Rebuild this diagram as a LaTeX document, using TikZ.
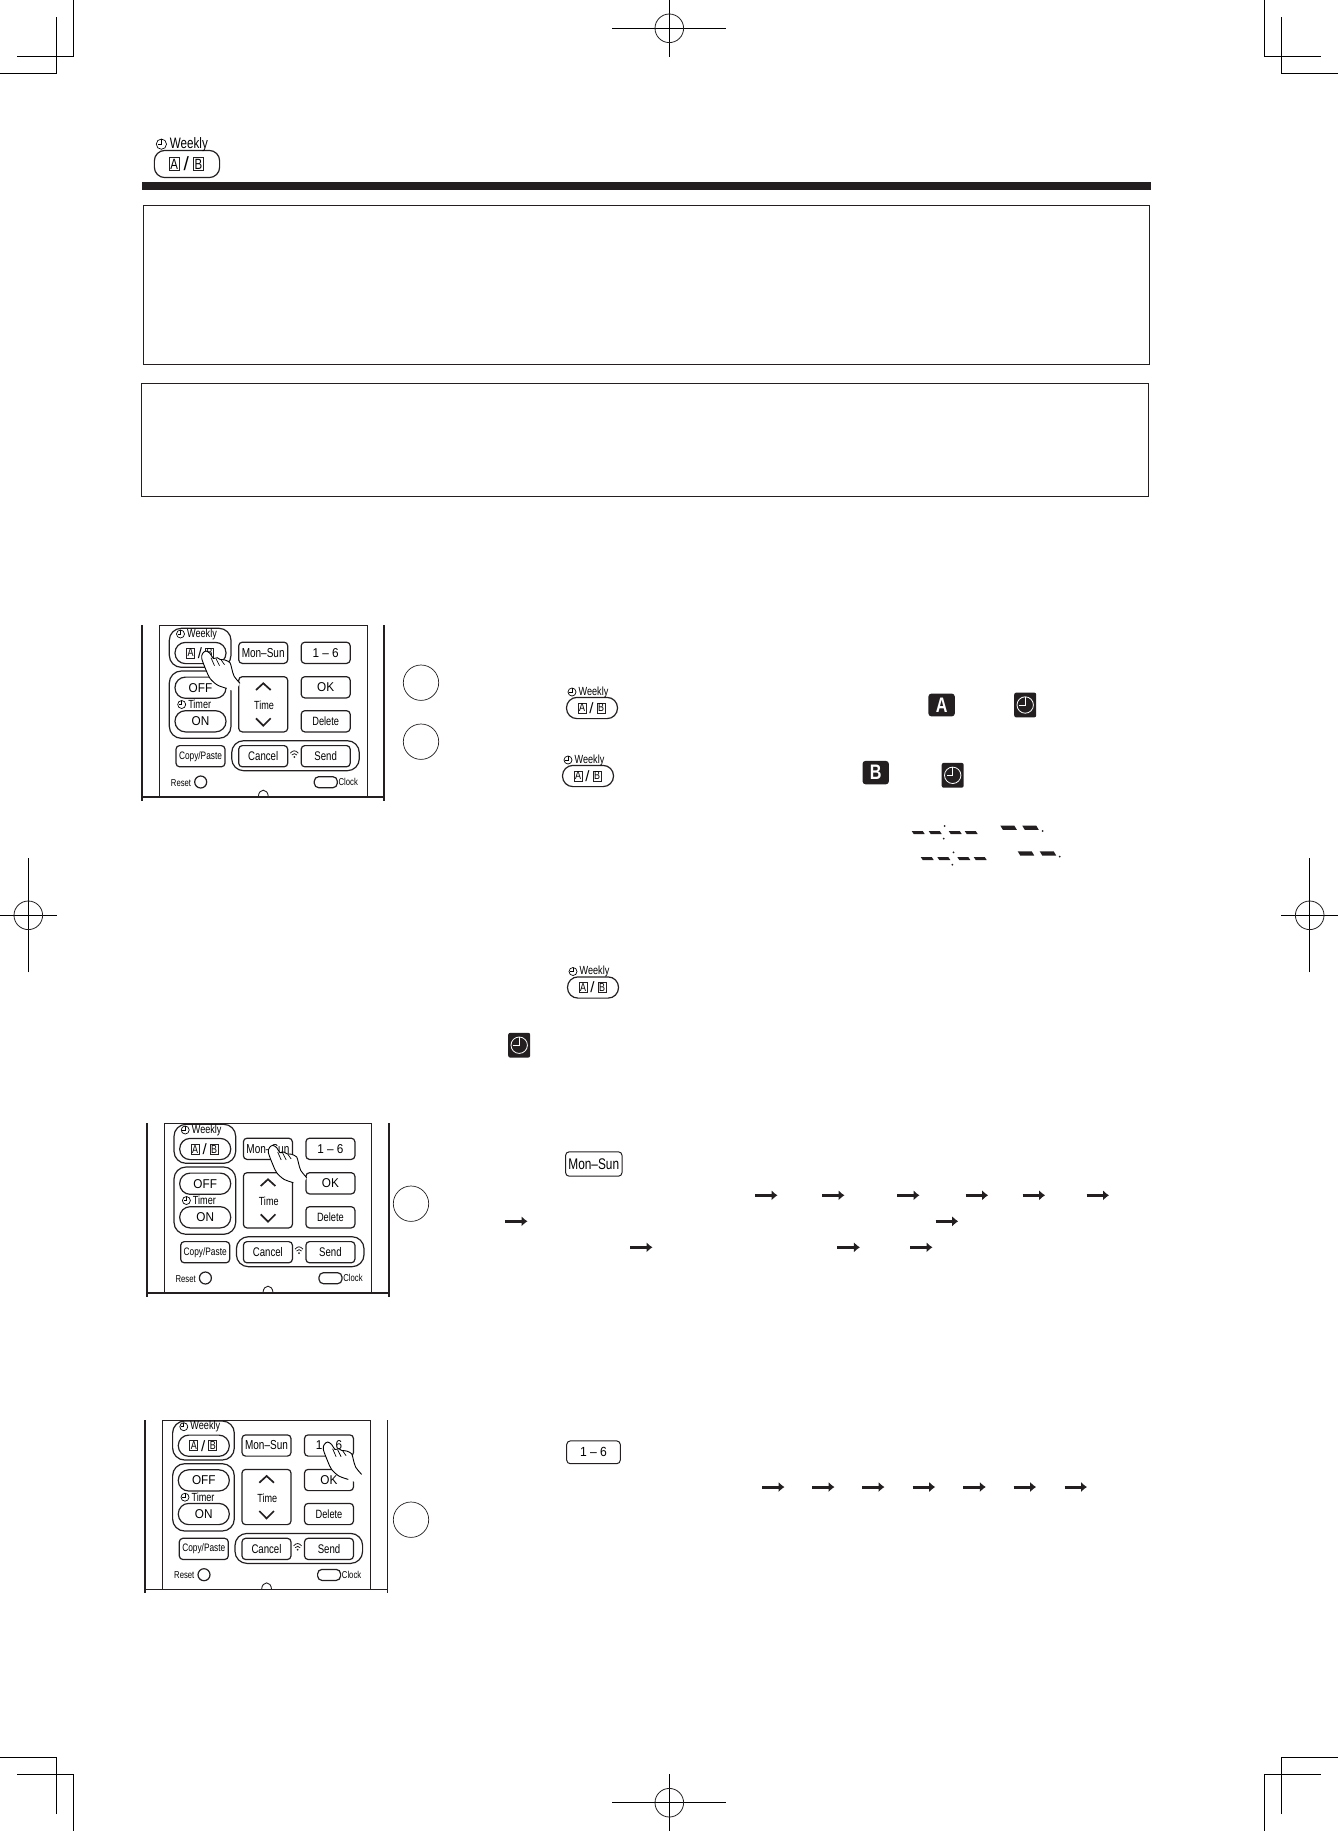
\documentclass[tikz,border=0pt]{standalone}
\usepackage{fontspec}
\setmainfont{Liberation Sans}
\newfontfamily\keynarrow[FakeStretch=0.77]{Liberation Sans}
\newfontfamily\keywide[FakeStretch=0.92]{Liberation Sans}
\newcommand*{\keyfs}[1]{\fontsize{#1}{#1}\selectfont}
\usetikzlibrary{arrows.meta}
\definecolor{inkblack}{HTML}{231F20}
\tikzset{
 remkey/.style={draw=inkblack, line width=.6pt, rounded corners=1.8pt, minimum width=24.5pt, minimum height=10.6pt, inner sep=0pt, outer sep=0pt, font=\keynarrow\keyfs{6.25}},
 widekey/.style={remkey, font=\keywide\keyfs{6.4}},
 pillkey/.style={widekey, rounded corners=5.2pt, minimum width=25.5pt},
 groupbox/.style={draw=inkblack, line width=.6pt, rounded corners=6pt},
 smalltxt/.style={inner sep=0pt, font=\keynarrow\keyfs{5}},
 weektxt/.style={inner sep=0pt, font=\keynarrow\keyfs{5.9}},
 letterkey/.style={draw=inkblack, line width=.4pt, minimum width=4pt, minimum height=5pt, inner sep=0pt, font=\keynarrow\keyfs{5.8}},
 darkkey/.style={fill=inkblack, text=white, rounded corners=1.5pt, minimum width=13.2pt, minimum height=11.4pt, inner sep=0pt, font=\keynarrow\bfseries\keyfs{10.5}},
 stepring/.style={draw=inkblack, line width=.35pt, circle, minimum size=35.4pt*.5, inner sep=0pt},
 frameline/.style={draw=inkblack, line width=.65pt},
 seqarrow/.style={draw=inkblack, line width=1.5pt, -{Latex[length=3pt,width=5.2pt]}},
 cropline/.style={draw=black, line width=.55pt},
 pics/tinyclock/.style={code={
  \draw[line width=.35pt] (0,0) circle[radius=4];
  \draw[line width=.35pt] (0,-4) -- (0,0) -- (-2.8,0);
 }},
 pics/weeklybtn/.style={code={
  \node[pillkey] (-pill) at (0,0) {};
  \node[letterkey] (-a) at (-10,0) {A};
  \node[letterkey] (-b) at (9,0) {B};
  \node[inner sep=0pt, font=\keyfs{7.5}] (-slash) at (-.5,0) {/};
  \node[weektxt] (-word) at (1.5,#1) {Weekly};
  \pic at (-20,#1) {tinyclock};
 }},
 pics/clockicon/.style={code={
  \node[darkkey, minimum width=11pt, minimum height=12.4pt, rounded corners=1pt] (-bg) at (0,0) {};
  \draw[white, line width=.4pt] (0,0) circle[radius=8.2];
  \draw[white, line width=.5pt] (0,-8) -- (0,0) -- (-6,0);
 }},
 pics/handtap/.style={code={
  \fill[white] plot[smooth] coordinates {(35,31.7) (29,24.3) (26.7,16.7) (25,11) (20,8.3) (15,7.7) (12.3,6) (8.3,6.7) (5,1.7) (1,-.7) (-2.3,1.7) (-3.3,6.7) (1,18.3) (5,26.7) (12.3,33.3) (21.7,36.7)} -- (30,40) -- cycle;
  \draw[line width=.45pt] plot[smooth] coordinates {(35,31.7) (29,24.3) (26.7,16.7) (25,11) (20,8.3) (15,7.7) (12.3,6) (8.3,6.7) (5,1.7) (1,-.7) (-2.3,1.7) (-3.3,6.7) (1,18.3) (5,26.7) (12.3,33.3) (21.7,36.7)};
  \draw[line width=.35pt] (6,6) -- (9.5,14) (11,7) -- (14.5,14) (16,8) -- (19.5,13);
 }},
 pics/remote/.style={code={
  \draw[line width=.85pt, draw=inkblack] (0,#1) -- (0,175.7) (242.3,#1) -- (242.3,175.7);
  \draw[line width=.8pt, draw=inkblack] (0,171.7) -- (242.3,171.7);
  \draw[line width=.5pt, draw=inkblack] (17.3,171.7) -- (17.3,#1) -- (225,#1) -- (225,171.7);
  \draw[line width=.45pt, draw=inkblack] (116.3,171.7) .. controls (116.8,163) and (125.8,163) .. (126.3,171.7);
  \draw[groupbox] (27.3,3.3) rectangle (89,42.3);
  \draw[groupbox] (27.3,46) rectangle (89,113.3);
  \draw[groupbox] (89.7,115.7) rectangle (217.3,145.7);
  \pic at (58.5,28) {weeklybtn=-19};
  \node[remkey, font=\keynarrow\keyfs{6.5}] (-monsun) at (121.2,27.8) {Mon–Sun};
  \node[widekey] (-onesix) at (183.7,27.8) {1 – 6};
  \node[pillkey] (-off) at (58.5,62.7) {OFF};
  \pic at (39.7,79.5) {tinyclock};
  \node[weektxt] (-timer) at (57.7,79.5) {Timer};
  \node[pillkey] (-on) at (58.5,96.3) {ON};
  \node[remkey, minimum height=27.6pt] (-time) at (121.2,79.3) {};
  \node[weektxt] (-timetxt) at (122,80.7) {Time};
  \draw[line width=.85pt, draw=inkblack] (114,65) -- (121.3,58.3) -- (128.7,65) (114,93.3) -- (121.3,100.7) -- (128.7,93.3);
  \node[widekey] (-ok) at (183.7,62.3) {OK};
  \node[remkey, font=\keynarrow\keyfs{6}] (-delete) at (183.7,96.3) {Delete};
  \node[remkey, font=\keynarrow\keyfs{5.4}] (-copy) at (58.5,131.2) {Copy/Paste};
  \node[remkey] (-cancel) at (121.2,131.2) {Cancel};
  \node[remkey] (-send) at (183.7,131.2) {Send};
  \draw[line width=.4pt, draw=inkblack] (148.3,128.2) .. controls (151,125) and (153.6,125) .. (156.3,128.2) (149.8,130) .. controls (151.5,128.2) and (153.2,128.2) .. (154.9,130);
  \fill[inkblack] (152.3,132) circle[radius=1];
  \node[smalltxt] (-reset) at (39,157.7) {Reset};
  \node[draw=inkblack, line width=.6pt, circle, minimum size=6pt, inner sep=0pt] (-resetbtn) at (58.7,157) {};
  \node[draw=inkblack, line width=.6pt, rounded corners=2.2pt, minimum width=11.5pt, minimum height=5.5pt, inner sep=0pt] (-clockbtn) at (183.8,157.2) {};
  \node[smalltxt] (-clock) at (206.3,157.3) {Clock};
 }},
 pics/cropcorner/.style={code={
  \draw[cropline] (73.3,0) -- (73.3,56.3) -- (17,56.3);
  \draw[cropline] (56.5,17) -- (56.5,73.3) -- (0,73.3);
 }},
 pics/regmark/.style={code={
  \draw[cropline] (-57,0) -- (57,0) (0,-28.3) -- (0,28.3);
  \draw[line width=.4pt, draw=inkblack] (0,0) circle[radius=14.3];
 }},
}

\begin{document}
\begin{tikzpicture}[x=.5pt, y=-.5pt]
 \useasboundingbox (0,0) rectangle (1338,1831);
 % printer marks
 \pic at (0,0) {cropcorner};
 \pic[xscale=-1] at (1338,0) {cropcorner};
 \pic[yscale=-1] at (0,1831) {cropcorner};
 \pic[xscale=-1, yscale=-1] at (1338,1831) {cropcorner};
 \pic at (669.3,28.3) {regmark};
 \pic at (669.3,1802.7) {regmark};
 \pic[rotate=90] at (28.3,915.3) {regmark};
 \pic[rotate=90] at (1309.7,915.3) {regmark};

 % heading
 \pic[scale=1.28, transform shape] at (187,164) {weeklybtn=-15.5};
 \fill[inkblack] (142,182) rectangle (1151,190);
 \draw[frameline] (143.3,205.3) rectangle (1149.3,364.3);
 \draw[frameline] (141.6,383.3) rectangle (1148.3,496.3);

 % remotes
 \pic (remA) at (142,625) {remote=0};
 \pic at (205,651.7) {handtap};
 \pic (remB) at (146.7,1121) {remote=2.3};
 \pic at (271.7,1146) {handtap};
 \pic (remC) at (145.3,1417.7) {remote=2.3};
 \pic at (326.6,1442.7) {handtap};

 \node[stepring] (ringA) at (421,682.7) {};
 \node[stepring] (ringB) at (421,741.7) {};
 \node[stepring] (ringC) at (411,1203.7) {};
 \node[stepring] (ringD) at (411,1519.7) {};

 % inline keys
 \pic at (592,708) {weeklybtn=-16};
 \pic at (588,776) {weeklybtn=-16};
 \pic at (593,987.5) {weeklybtn=-16};
 \node[remkey, line width=.5pt, minimum width=28.2pt, minimum height=12.2pt, font=\keynarrow\keyfs{7.7}] (keyMon) at (593.8,1164) {Mon–Sun};
 \node[remkey, line width=.5pt, minimum width=26.8pt, minimum height=11.4pt, font=\keywide\keyfs{6.6}] (keyOne) at (593.5,1452.3) {1 – 6};
 \node[darkkey] (dispA) at (941.6,705) {A};
 \node[darkkey, minimum height=11.7pt] (dispB) at (875.7,772.6) {B};
 \pic at (1025.2,705) {clockicon};
 \pic at (952.7,775.3) {clockicon};
 \pic at (519.2,1045.2) {clockicon};

 % segment display
 \foreach \x/\y in {911.7/831, 928.7/831, 948.7/831, 964.7/831, 920.7/857, 937.3/857, 957.3/857, 973.7/857}
  \fill[inkblack] (\x,\y) -- ++(11,0) -- ++(2,3) -- ++(-11,0) -- cycle;
 \foreach \x/\y in {1000.4/825.7, 1022.3/825.7, 1017.7/851.3, 1039.7/851.3}
  \fill[inkblack] (\x,\y) -- ++(14,0) -- ++(2.5,4.2) -- ++(-14,0) -- cycle;
 \foreach \x/\y in {944.7/826, 943.7/838.7, 1042.7/831, 953.5/852.3, 952.3/864.7, 1059.7/856.7}
  \fill[inkblack] (\x,\y) circle[radius=1];

 % sequence arrows
 \foreach \x in {755, 822, 897, 965.6, 1022.6, 1086.5}
  \draw[seqarrow] (\x,1195.3) -- ++(22.5,0);
 \foreach \x in {505, 935.7}
  \draw[seqarrow] (\x,1221.3) -- ++(22.5,0);
 \foreach \x in {630, 837.4, 910}
  \draw[seqarrow] (\x,1247.3) -- ++(22.5,0);
 \foreach \x in {762, 812, 862, 912.7, 963.3, 1013.6, 1064.5}
  \draw[seqarrow] (\x,1487) -- ++(22.5,0);
\end{tikzpicture}
\end{document}
